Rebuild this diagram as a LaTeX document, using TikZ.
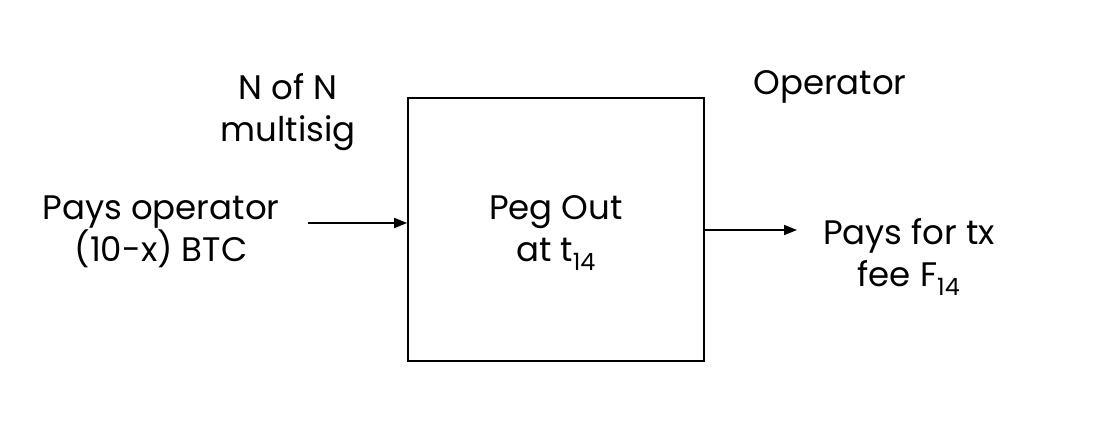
\documentclass[tikz,border=0pt]{standalone}
\usepackage{fontspec}
\setmainfont{Poppins}
\usetikzlibrary{arrows.meta}
\begin{document}
\begin{tikzpicture}[x=1pt,y=-1pt,
  lbl/.style={align=center,font=\fontsize{34}{42}\selectfont,inner sep=0pt,anchor=base},
  conn/.style={line width=1.8pt,-{Triangle[length=13pt,width=10pt]}}]
\useasboundingbox[fill=white] (0,0) rectangle (1100,427);
\node[draw,line width=1.8pt,minimum width=296pt,minimum height=263pt,inner sep=0pt] (box) at (556,229.5) {};
\node[lbl] (peg) at (556,262) {Peg Out\\at t\textsubscript{14}};
\node[lbl] (nofn) at (288,142) {N of N\\multisig};
\node[lbl] (op) at (830,95) {Operator};
\node[lbl] (pays) at (161,262) {Pays operator\\(10-x) BTC};
\node[lbl] (fee) at (909,287) {Pays for tx\\fee F\textsubscript{14}};
\coordinate (a1) at (308,223);
\coordinate (a2) at (797,230);
\draw[conn] (a1) -- (a1 -| box.west);
\draw[conn] (box.east |- a2) -- (a2);
\end{tikzpicture}
\end{document}
